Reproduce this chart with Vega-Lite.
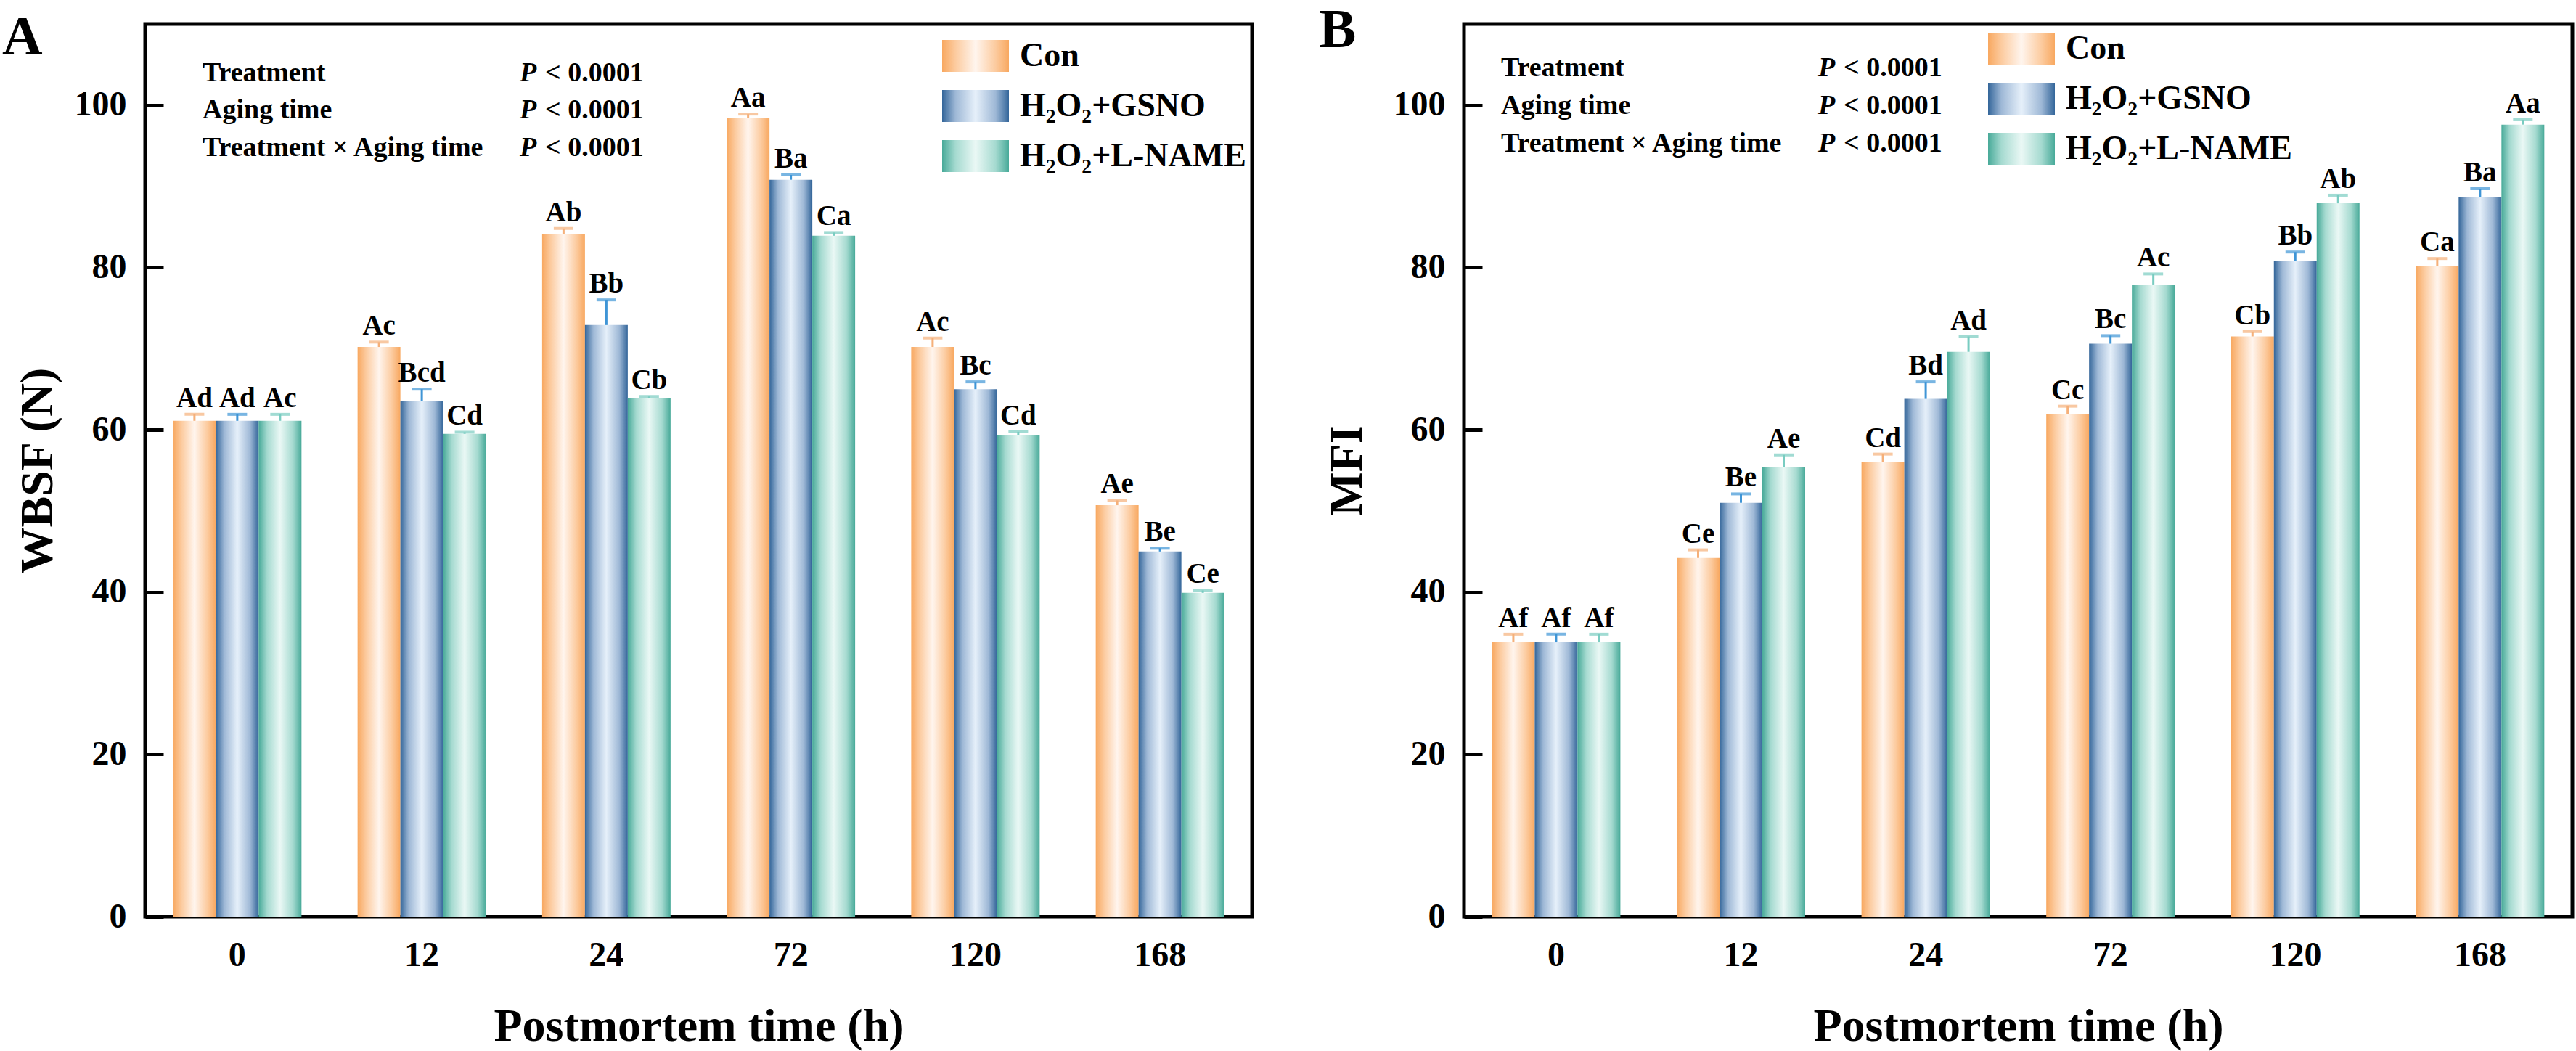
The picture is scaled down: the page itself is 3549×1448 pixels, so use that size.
{
  "$schema": "https://vega.github.io/schema/vega-lite/v6.json",
  "background": "white",
  "padding": {"left": 0, "top": 0, "right": 5, "bottom": 5},
  "config": {
    "font": "Liberation Serif",
    "view": {"stroke": "black", "strokeWidth": 5},
    "axis": {
      "labelFont": "Liberation Serif", "labelFontSize": 48, "labelFontWeight": "bold", "labelColor": "black",
      "titleFont": "Liberation Serif", "titleFontSize": 64, "titleFontWeight": "bold", "titleColor": "black",
      "grid": false, "domain": false, "tickColor": "black"
    },
    "legend": {
      "orient": "none", "title": null,
      "symbolType": "M-1,-0.478L1,-0.478L1,0.478L-1,0.478Z", "symbolSize": 8464, "symbolStrokeWidth": 0,
      "labelFont": "Liberation Serif", "labelFontSize": 46, "labelFontWeight": "bold", "labelColor": "black",
      "labelOffset": 15, "rowPadding": -6, "labelLimit": 500
    },
    "title": {"font": "Liberation Serif", "fontSize": 77, "fontWeight": "bold", "color": "black", "anchor": "start", "frame": "bounds"}
  },
  "datasets": {
    "wbsf": [
      {"time": "0", "trt": "Con", "mean": 61.1, "hi": 61.9, "lab": "Ad"},
      {"time": "0", "trt": "H₂O₂+GSNO", "mean": 61.1, "hi": 61.9, "lab": "Ad"},
      {"time": "0", "trt": "H₂O₂+L-NAME", "mean": 61.1, "hi": 61.9, "lab": "Ac"},
      {"time": "12", "trt": "Con", "mean": 70.2, "hi": 70.8, "lab": "Ac"},
      {"time": "12", "trt": "H₂O₂+GSNO", "mean": 63.5, "hi": 65.0, "lab": "Bcd"},
      {"time": "12", "trt": "H₂O₂+L-NAME", "mean": 59.5, "hi": 59.7, "lab": "Cd"},
      {"time": "24", "trt": "Con", "mean": 84.1, "hi": 84.8, "lab": "Ab"},
      {"time": "24", "trt": "H₂O₂+GSNO", "mean": 72.9, "hi": 76.0, "lab": "Bb"},
      {"time": "24", "trt": "H₂O₂+L-NAME", "mean": 63.9, "hi": 64.1, "lab": "Cb"},
      {"time": "72", "trt": "Con", "mean": 98.4, "hi": 98.9, "lab": "Aa"},
      {"time": "72", "trt": "H₂O₂+GSNO", "mean": 90.8, "hi": 91.4, "lab": "Ba"},
      {"time": "72", "trt": "H₂O₂+L-NAME", "mean": 83.9, "hi": 84.3, "lab": "Ca"},
      {"time": "120", "trt": "Con", "mean": 70.2, "hi": 71.3, "lab": "Ac"},
      {"time": "120", "trt": "H₂O₂+GSNO", "mean": 65.0, "hi": 65.9, "lab": "Bc"},
      {"time": "120", "trt": "H₂O₂+L-NAME", "mean": 59.3, "hi": 59.75, "lab": "Cd"},
      {"time": "168", "trt": "Con", "mean": 50.7, "hi": 51.3, "lab": "Ae"},
      {"time": "168", "trt": "H₂O₂+GSNO", "mean": 45.0, "hi": 45.4, "lab": "Be"},
      {"time": "168", "trt": "H₂O₂+L-NAME", "mean": 39.9, "hi": 40.2, "lab": "Ce"}
    ],
    "mfi": [
      {"time": "0", "trt": "Con", "mean": 33.8, "hi": 34.8, "lab": "Af"},
      {"time": "0", "trt": "H₂O₂+GSNO", "mean": 33.8, "hi": 34.8, "lab": "Af"},
      {"time": "0", "trt": "H₂O₂+L-NAME", "mean": 33.8, "hi": 34.8, "lab": "Af"},
      {"time": "12", "trt": "Con", "mean": 44.2, "hi": 45.2, "lab": "Ce"},
      {"time": "12", "trt": "H₂O₂+GSNO", "mean": 51.0, "hi": 52.1, "lab": "Be"},
      {"time": "12", "trt": "H₂O₂+L-NAME", "mean": 55.4, "hi": 56.9, "lab": "Ae"},
      {"time": "24", "trt": "Con", "mean": 56.0, "hi": 57.0, "lab": "Cd"},
      {"time": "24", "trt": "H₂O₂+GSNO", "mean": 63.8, "hi": 65.9, "lab": "Bd"},
      {"time": "24", "trt": "H₂O₂+L-NAME", "mean": 69.6, "hi": 71.5, "lab": "Ad"},
      {"time": "72", "trt": "Con", "mean": 61.9, "hi": 62.9, "lab": "Cc"},
      {"time": "72", "trt": "H₂O₂+GSNO", "mean": 70.6, "hi": 71.6, "lab": "Bc"},
      {"time": "72", "trt": "H₂O₂+L-NAME", "mean": 77.9, "hi": 79.2, "lab": "Ac"},
      {"time": "120", "trt": "Con", "mean": 71.5, "hi": 72.1, "lab": "Cb"},
      {"time": "120", "trt": "H₂O₂+GSNO", "mean": 80.8, "hi": 81.9, "lab": "Bb"},
      {"time": "120", "trt": "H₂O₂+L-NAME", "mean": 87.9, "hi": 88.9, "lab": "Ab"},
      {"time": "168", "trt": "Con", "mean": 80.2, "hi": 81.1, "lab": "Ca"},
      {"time": "168", "trt": "H₂O₂+GSNO", "mean": 88.7, "hi": 89.7, "lab": "Ba"},
      {"time": "168", "trt": "H₂O₂+L-NAME", "mean": 97.6, "hi": 98.2, "lab": "Aa"}
    ],
    "annA": [
      {"lab": "Treatment", "fy": 102.95},
      {"lab": "Aging time", "fy": 98.39},
      {"lab": "Treatment × Aging time", "fy": 93.74}
    ],
    "annB": [
      {"lab": "Treatment", "fy": 103.57},
      {"lab": "Aging time", "fy": 98.93},
      {"lab": "Treatment × Aging time", "fy": 94.28}
    ]
  },
  "spacing": 86,
  "resolve": {"scale": {"color": "independent", "stroke": "independent", "fill": "independent"}, "legend": {"color": "independent"}},
  "hconcat": [
    {
      "title": {"text": "A", "dx": -17, "offset": -60},
      "width": 1525, "height": 1230,
      "resolve": {"scale": {"x": "independent"}},
      "layer": [
        {
          "data": {"name": "wbsf"},
          "layer": [
            {
              "mark": {"type": "bar"},
              "encoding": {
                "x": {"field": "time", "type": "nominal", "sort": ["0", "12", "24", "72", "120", "168"],
                      "scale": {"paddingInner": 0.304, "paddingOuter": 0.151},
                      "axis": {"title": "Postmortem time (h)", "labelAngle": 0, "tickSize": -21, "tickWidth": 3, "labelPadding": 50, "titlePadding": 42}},
                "xOffset": {"field": "trt", "type": "nominal", "sort": ["Con", "H₂O₂+GSNO", "H₂O₂+L-NAME"], "scale": {"paddingInner": 0, "paddingOuter": 0}},
                "y": {"field": "mean", "type": "quantitative", "scale": {"domain": [0, 110], "nice": false},
                      "axis": {"title": "WBSF (N)", "values": [0, 20, 40, 60, 80, 100], "tickSize": -25, "tickWidth": 5, "labelPadding": 51, "titlePadding": 18}},
                "color": {"field": "trt", "type": "nominal", "sort": ["Con", "H₂O₂+GSNO", "H₂O₂+L-NAME"],
                          "scale": {"domain": ["Con", "H₂O₂+GSNO", "H₂O₂+L-NAME"], "range": [
                            {"expr": "{gradient:'linear',x1:0,y1:0,x2:1,y2:0,stops:[{offset:0,color:'#F8A860'},{offset:0.2,color:'#FCCB9F'},{offset:0.5,color:'#FFF5EE'},{offset:0.8,color:'#FCCB9F'},{offset:1,color:'#F8A860'}]}"},
                            {"expr": "{gradient:'linear',x1:0,y1:0,x2:1,y2:0,stops:[{offset:0,color:'#34669A'},{offset:0.2,color:'#9EB8D6'},{offset:0.5,color:'#E6F0FA'},{offset:0.8,color:'#9EB8D6'},{offset:1,color:'#34669A'}]}"},
                            {"expr": "{gradient:'linear',x1:0,y1:0,x2:1,y2:0,stops:[{offset:0,color:'#48AA99'},{offset:0.2,color:'#A5DAD0'},{offset:0.5,color:'#EAF8F5'},{offset:0.8,color:'#A5DAD0'},{offset:1,color:'#48AA99'}]}"}
                          ]},
                          "legend": {"legendX": 1098, "legendY": -2}}
              }
            },
            {
              "mark": {"type": "rule", "strokeWidth": 3},
              "encoding": {
                "x": {"field": "time", "type": "nominal", "sort": ["0", "12", "24", "72", "120", "168"]},
                "xOffset": {"field": "trt", "type": "nominal", "sort": ["Con", "H₂O₂+GSNO", "H₂O₂+L-NAME"]},
                "y": {"field": "mean", "type": "quantitative"},
                "y2": {"field": "hi"},
                "stroke": {"field": "trt", "type": "nominal", "scale": {"domain": ["Con", "H₂O₂+GSNO", "H₂O₂+L-NAME"], "range": ["#F5B07A", "#3F95D6", "#79CCC1"]}, "legend": null}
              }
            },
            {
              "mark": {"type": "tick", "orient": "horizontal", "size": 27, "thickness": 4},
              "encoding": {
                "x": {"field": "time", "type": "nominal", "sort": ["0", "12", "24", "72", "120", "168"]},
                "xOffset": {"field": "trt", "type": "nominal", "sort": ["Con", "H₂O₂+GSNO", "H₂O₂+L-NAME"]},
                "y": {"field": "hi", "type": "quantitative"},
                "fill": {"field": "trt", "type": "nominal", "scale": {"domain": ["Con", "H₂O₂+GSNO", "H₂O₂+L-NAME"], "range": ["#F5B07A", "#3F95D6", "#79CCC1"]}, "legend": null}
              }
            },
            {
              "mark": {"type": "text", "font": "Liberation Serif", "fontSize": 39, "fontWeight": "bold", "color": "black", "baseline": "alphabetic", "dy": -10},
              "encoding": {
                "x": {"field": "time", "type": "nominal", "sort": ["0", "12", "24", "72", "120", "168"]},
                "xOffset": {"field": "trt", "type": "nominal", "sort": ["Con", "H₂O₂+GSNO", "H₂O₂+L-NAME"]},
                "y": {"field": "hi", "type": "quantitative"},
                "text": {"field": "lab"}
              }
            }
          ]
        },
        {
          "data": {"name": "annA"},
          "layer": [
            {
              "mark": {"type": "text", "font": "Liberation Serif", "fontSize": 38, "fontWeight": "bold", "color": "black", "align": "left", "baseline": "alphabetic"},
              "encoding": {
                "x": {"datum": 0.0518, "type": "quantitative", "scale": {"domain": [0, 1]}, "axis": null},
                "y": {"field": "fy", "type": "quantitative"},
                "text": {"field": "lab"}
              }
            },
            {
              "mark": {"type": "text", "font": "Liberation Serif", "fontSize": 38, "fontWeight": "bold", "fontStyle": "italic", "color": "black", "align": "left", "baseline": "alphabetic"},
              "encoding": {
                "x": {"datum": 0.3384, "type": "quantitative", "scale": {"domain": [0, 1]}, "axis": null},
                "y": {"field": "fy", "type": "quantitative"},
                "text": {"value": "P"}
              }
            },
            {
              "mark": {"type": "text", "font": "Liberation Serif", "fontSize": 38, "fontWeight": "bold", "color": "black", "align": "left", "baseline": "alphabetic"},
              "encoding": {
                "x": {"datum": 0.3613, "type": "quantitative", "scale": {"domain": [0, 1]}, "axis": null},
                "y": {"field": "fy", "type": "quantitative"},
                "text": {"value": "< 0.0001"}
              }
            }
          ]
        }
      ]
    },
    {
      "title": {"text": "B", "dx": -7, "offset": -60},
      "width": 1527, "height": 1230,
      "resolve": {"scale": {"x": "independent"}},
      "layer": [
        {
          "data": {"name": "mfi"},
          "layer": [
            {
              "mark": {"type": "bar"},
              "encoding": {
                "x": {"field": "time", "type": "nominal", "sort": ["0", "12", "24", "72", "120", "168"],
                      "scale": {"paddingInner": 0.304, "paddingOuter": 0.151},
                      "axis": {"title": "Postmortem time (h)", "labelAngle": 0, "tickSize": -21, "tickWidth": 3, "labelPadding": 50, "titlePadding": 42}},
                "xOffset": {"field": "trt", "type": "nominal", "sort": ["Con", "H₂O₂+GSNO", "H₂O₂+L-NAME"], "scale": {"paddingInner": 0, "paddingOuter": 0}},
                "y": {"field": "mean", "type": "quantitative", "scale": {"domain": [0, 110], "nice": false},
                      "axis": {"title": "MFI", "values": [0, 20, 40, 60, 80, 100], "tickSize": -25, "tickWidth": 5, "labelPadding": 51, "titlePadding": 31}},
                "color": {"field": "trt", "type": "nominal", "sort": ["Con", "H₂O₂+GSNO", "H₂O₂+L-NAME"],
                          "scale": {"domain": ["Con", "H₂O₂+GSNO", "H₂O₂+L-NAME"], "range": [
                            {"expr": "{gradient:'linear',x1:0,y1:0,x2:1,y2:0,stops:[{offset:0,color:'#F8A860'},{offset:0.2,color:'#FCCB9F'},{offset:0.5,color:'#FFF5EE'},{offset:0.8,color:'#FCCB9F'},{offset:1,color:'#F8A860'}]}"},
                            {"expr": "{gradient:'linear',x1:0,y1:0,x2:1,y2:0,stops:[{offset:0,color:'#34669A'},{offset:0.2,color:'#9EB8D6'},{offset:0.5,color:'#E6F0FA'},{offset:0.8,color:'#9EB8D6'},{offset:1,color:'#34669A'}]}"},
                            {"expr": "{gradient:'linear',x1:0,y1:0,x2:1,y2:0,stops:[{offset:0,color:'#48AA99'},{offset:0.2,color:'#A5DAD0'},{offset:0.5,color:'#EAF8F5'},{offset:0.8,color:'#A5DAD0'},{offset:1,color:'#48AA99'}]}"}
                          ]},
                          "legend": {"legendX": 722, "legendY": -12}}
              }
            },
            {
              "mark": {"type": "rule", "strokeWidth": 3},
              "encoding": {
                "x": {"field": "time", "type": "nominal", "sort": ["0", "12", "24", "72", "120", "168"]},
                "xOffset": {"field": "trt", "type": "nominal", "sort": ["Con", "H₂O₂+GSNO", "H₂O₂+L-NAME"]},
                "y": {"field": "mean", "type": "quantitative"},
                "y2": {"field": "hi"},
                "stroke": {"field": "trt", "type": "nominal", "scale": {"domain": ["Con", "H₂O₂+GSNO", "H₂O₂+L-NAME"], "range": ["#F5B07A", "#3F95D6", "#79CCC1"]}, "legend": null}
              }
            },
            {
              "mark": {"type": "tick", "orient": "horizontal", "size": 27, "thickness": 4},
              "encoding": {
                "x": {"field": "time", "type": "nominal", "sort": ["0", "12", "24", "72", "120", "168"]},
                "xOffset": {"field": "trt", "type": "nominal", "sort": ["Con", "H₂O₂+GSNO", "H₂O₂+L-NAME"]},
                "y": {"field": "hi", "type": "quantitative"},
                "fill": {"field": "trt", "type": "nominal", "scale": {"domain": ["Con", "H₂O₂+GSNO", "H₂O₂+L-NAME"], "range": ["#F5B07A", "#3F95D6", "#79CCC1"]}, "legend": null}
              }
            },
            {
              "mark": {"type": "text", "font": "Liberation Serif", "fontSize": 39, "fontWeight": "bold", "color": "black", "baseline": "alphabetic", "dy": -10},
              "encoding": {
                "x": {"field": "time", "type": "nominal", "sort": ["0", "12", "24", "72", "120", "168"]},
                "xOffset": {"field": "trt", "type": "nominal", "sort": ["Con", "H₂O₂+GSNO", "H₂O₂+L-NAME"]},
                "y": {"field": "hi", "type": "quantitative"},
                "text": {"field": "lab"}
              }
            }
          ]
        },
        {
          "data": {"name": "annB"},
          "layer": [
            {
              "mark": {"type": "text", "font": "Liberation Serif", "fontSize": 38, "fontWeight": "bold", "color": "black", "align": "left", "baseline": "alphabetic"},
              "encoding": {
                "x": {"datum": 0.0334, "type": "quantitative", "scale": {"domain": [0, 1]}, "axis": null},
                "y": {"field": "fy", "type": "quantitative"},
                "text": {"field": "lab"}
              }
            },
            {
              "mark": {"type": "text", "font": "Liberation Serif", "fontSize": 38, "fontWeight": "bold", "fontStyle": "italic", "color": "black", "align": "left", "baseline": "alphabetic"},
              "encoding": {
                "x": {"datum": 0.3196, "type": "quantitative", "scale": {"domain": [0, 1]}, "axis": null},
                "y": {"field": "fy", "type": "quantitative"},
                "text": {"value": "P"}
              }
            },
            {
              "mark": {"type": "text", "font": "Liberation Serif", "fontSize": 38, "fontWeight": "bold", "color": "black", "align": "left", "baseline": "alphabetic"},
              "encoding": {
                "x": {"datum": 0.3425, "type": "quantitative", "scale": {"domain": [0, 1]}, "axis": null},
                "y": {"field": "fy", "type": "quantitative"},
                "text": {"value": "< 0.0001"}
              }
            }
          ]
        }
      ]
    }
  ]
}
